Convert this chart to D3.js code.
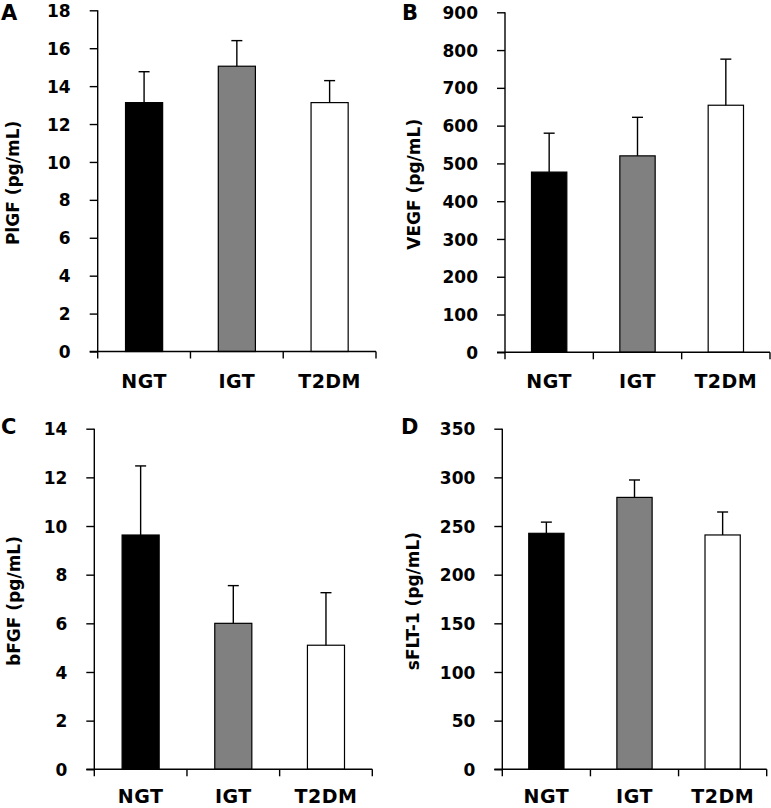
<!DOCTYPE html>
<html>
<head>
<meta charset="utf-8">
<script src="https://cdn.jsdelivr.net/npm/d3@7"></script>
<style>
  html, body { margin: 0; padding: 0; background: #fff; }
  svg { display: block; }
  text { font-family: "DejaVu Sans", sans-serif; font-weight: bold; fill: #000; }
</style>
</head>
<body>
<svg id="chart" width="771" height="808"></svg>
<script>
// ---- data ----
const categories = ["NGT", "IGT", "T2DM"];
const barColors = ["#000000", "#808080", "#ffffff"];

const plgfMean = [13.13, 15.05, 13.13];
const plgfErr  = [1.63, 1.35, 1.16];
const plgfTicks = [0, 2, 4, 6, 8, 10, 12, 14, 16, 18];

const vegfMean = [477, 520, 654];
const vegfErr  = [103, 102, 122];
const vegfTicks = [0, 100, 200, 300, 400, 500, 600, 700, 800, 900];

const bfgfMean = [9.63, 6.0, 5.1];
const bfgfErr  = [2.84, 1.55, 2.16];
const bfgfTicks = [0, 2, 4, 6, 8, 10, 12, 14];

const sflt1Mean = [242.5, 279.4, 240.8];
const sflt1Err  = [11.5, 17.9, 23.6];
const sflt1Ticks = [0, 50, 100, 150, 200, 250, 300, 350];

const panelLetters = ["A", "B", "C", "D"];
const yTitles = ["PlGF (pg/mL)", "VEGF (pg/mL)", "bFGF (pg/mL)", "sFLT-1 (pg/mL)"];

// ---- layout ----
const panels = [
  { letter: panelLetters[0], title: yTitles[0], mean: plgfMean, err: plgfErr, ticks: plgfTicks,
    left: 97.7, right: 376, top: 10.3, bottom: 351.5, titleX: 13, letterX: 1, letterY: 20, labDy: 36.5 },
  { letter: panelLetters[1], title: yTitles[1], mean: vegfMean, err: vegfErr, ticks: vegfTicks,
    left: 505, right: 770, top: 12.3, bottom: 352.3, titleX: 414, letterX: 402, letterY: 20, labDy: 36 },
  { letter: panelLetters[2], title: yTitles[2], mean: bfgfMean, err: bfgfErr, ticks: bfgfTicks,
    left: 94.3, right: 372.3, top: 428.7, bottom: 769.3, titleX: 14, letterX: 1, letterY: 433.5, labDy: 34 },
  { letter: panelLetters[3], title: yTitles[3], mean: sflt1Mean, err: sflt1Err, ticks: sflt1Ticks,
    left: 502.3, right: 766.7, top: 428.7, bottom: 769.3, titleX: 413, letterX: 401, letterY: 433.5, labDy: 34 }
];

const svg = d3.select("#chart");

panels.forEach(p => {
  const g = svg.append("g");
  const yMax = p.ticks[p.ticks.length - 1];
  const y = d3.scaleLinear().domain([0, yMax]).range([p.bottom, p.top]);
  const xBand = d3.scaleBand().domain(categories).range([p.left, p.right]).padding(0);
  const xBar = d3.scaleBand().domain(categories).range([p.left, p.right])
    .paddingInner(0.6).paddingOuter(0.3);

  // bars
  g.selectAll("rect.bar").data(categories).join("rect")
    .attr("class", "bar")
    .attr("x", d => xBar(d))
    .attr("width", xBar.bandwidth())
    .attr("y", (d, i) => y(p.mean[i]))
    .attr("height", (d, i) => y(0) - y(p.mean[i]))
    .attr("fill", (d, i) => barColors[i])
    .attr("stroke", "#000")
    .attr("stroke-width", 1.2);

  // error bars (upper only)
  const capW = 11;
  categories.forEach((c, i) => {
    const cx = xBar(c) + xBar.bandwidth() / 2;
    g.append("line")
      .attr("x1", cx).attr("x2", cx)
      .attr("y1", y(p.mean[i])).attr("y2", y(p.mean[i] + p.err[i]))
      .attr("stroke", "#000").attr("stroke-width", 1.4);
    g.append("line")
      .attr("x1", cx - capW / 2).attr("x2", cx + capW / 2)
      .attr("y1", y(p.mean[i] + p.err[i])).attr("y2", y(p.mean[i] + p.err[i]))
      .attr("stroke", "#000").attr("stroke-width", 1.4);
  });

  // y axis
  const yAxis = d3.axisLeft(y).tickValues(p.ticks).tickSize(8).tickPadding(19)
    .tickFormat(d3.format("d"));
  const ya = g.append("g").attr("transform", `translate(${p.left},0)`).call(yAxis);
  ya.select(".domain").attr("d", `M0,${p.top}V${p.bottom}`).attr("stroke-width", 1.4);
  ya.selectAll(".tick line").attr("stroke-width", 1.4);
  ya.selectAll(".tick text")
    .style("font-family", "'DejaVu Sans', sans-serif")
    .style("font-weight", "bold")
    .style("font-size", "17px")
    .attr("dy", "0.36em");

  // x axis line with boundary ticks
  g.append("line")
    .attr("x1", p.left - 8).attr("x2", p.right)
    .attr("y1", y(0)).attr("y2", y(0))
    .attr("stroke", "#000").attr("stroke-width", 1.4);
  const edges = categories.map(c => xBand(c)).concat([xBand.range()[1]]);
  g.selectAll("line.xtick").data(edges).join("line")
    .attr("class", "xtick")
    .attr("x1", d => d).attr("x2", d => d)
    .attr("y1", y(0)).attr("y2", y(0) + 7)
    .attr("stroke", "#000").attr("stroke-width", 1.4);
  g.selectAll("text.xlab").data(categories).join("text")
    .attr("class", "xlab")
    .attr("x", d => xBand(d) + xBand.bandwidth() / 2)
    .attr("y", y(0) + p.labDy)
    .attr("text-anchor", "middle")
    .style("font-size", "19px")
    .style("letter-spacing", "0.5px")
    .text(d => d);

  // y title
  const midY = (p.top + p.bottom) / 2;
  g.append("text")
    .attr("transform", `translate(${p.titleX + 6},${midY + 2}) rotate(-90)`)
    .attr("text-anchor", "middle")
    .style("font-size", "17px")
    .text(p.title);

  // panel letter
  g.append("text")
    .attr("x", p.letterX).attr("y", p.letterY)
    .style("font-size", "21px")
    .text(p.letter);
});
</script>
</body>
</html>
